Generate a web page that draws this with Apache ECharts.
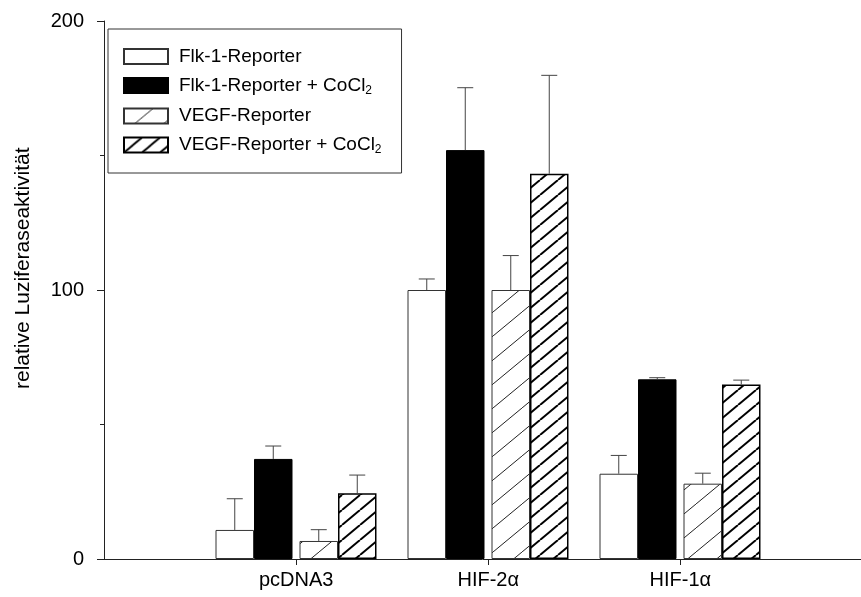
<!DOCTYPE html>
<html>
<head>
<meta charset="utf-8">
<script src="https://cdn.jsdelivr.net/npm/echarts@6/dist/echarts.min.js"></script>
<style>html,body{margin:0;padding:0;background:#fff}#c{width:861px;height:597px}</style>
</head>
<body>
<div id="c"></div>
<script>
// ---- data ----
const categories = ['pcDNA3', 'HIF-2\u03b1', 'HIF-1\u03b1'];
const seriesNames = ['Flk-1-Reporter', 'Flk-1-Reporter + CoCl2', 'VEGF-Reporter', 'VEGF-Reporter + CoCl2'];
const flk      = [10.8, 100.0, 31.7];
const flkErr   = [11.6, 4.1, 6.8];
const flkCo    = [37.2, 152.0, 66.8];
const flkCoErr = [4.8, 23.2, 0.6];
const vegf     = [6.7, 100.0, 28.0];
const vegfErr  = [4.2, 12.8, 3.9];
const vegfCo   = [24.4, 143.2, 64.9];
const vegfCoErr= [6.8, 36.6, 1.6];
const yTicks = [0, 100, 200];

// ---- styles ----
const FONT = 'Liberation Sans, Arial, sans-serif';
const BW = 38.5, SP = 7;
const half = (4 * BW + SP) / 2;
const offsets = [-half + BW / 2, -half + 1.5 * BW, half - 1.5 * BW, half - BW / 2];

function hatch(w, h, lw, color) {
  const c = document.createElement('canvas');
  c.width = w; c.height = h;
  const g = c.getContext('2d');
  g.fillStyle = '#fff'; g.fillRect(0, 0, w, h);
  g.strokeStyle = color; g.lineWidth = lw;
  for (const dx of [-w, 0, w]) {
    g.beginPath(); g.moveTo(dx, h); g.lineTo(dx + w, 0); g.stroke();
  }
  return c;
}
const lightPat = { image: hatch(29, 24, 1, '#222'), repeat: 'repeat' };
const densePat = { image: hatch(18, 15, 2, '#000'), repeat: 'repeat' };

const values = [flk, flkCo, vegf, vegfCo];
const errs = [flkErr, flkCoErr, vegfErr, vegfCoErr];
const styles = [
  { color: '#fff', borderColor: '#333', borderWidth: 1 },
  { color: '#000', borderColor: '#000', borderWidth: 1 },
  { color: lightPat, borderColor: '#333', borderWidth: 1 },
  { color: densePat, borderColor: '#000', borderWidth: 1.5 }
];

const series = [];
values.forEach((v, i) => {
  series.push({
    name: seriesNames[i], type: 'bar', xAxisIndex: 1, yAxisIndex: 1,
    data: v, barWidth: BW, barGap: '0%', itemStyle: styles[i], silent: true
  });
  if (i === 1) {
    series.push({
      name: '_spacer', type: 'bar', xAxisIndex: 1, yAxisIndex: 1,
      data: v.map(() => 0), barWidth: SP, barGap: '0%',
      itemStyle: { color: 'rgba(0,0,0,0)' }, silent: true
    });
  }
});
values.forEach((v, i) => {
  series.push({
    type: 'custom', xAxisIndex: 1, yAxisIndex: 1, silent: true, z: 5,
    data: v.map((val, k) => [k, val, errs[i][k]]),
    encode: { x: 0, y: 1 },
    renderItem: function (params, api) {
      const base = api.coord([api.value(0), api.value(1)]);
      const top = api.coord([api.value(0), api.value(1) + api.value(2)]);
      const x = base[0] + offsets[i];
      const st = { stroke: '#444', lineWidth: 1 };
      return {
        type: 'group',
        children: [
          { type: 'line', shape: { x1: x, y1: base[1], x2: x, y2: top[1] }, style: st },
          { type: 'line', shape: { x1: x - 8, y1: top[1], x2: x + 8, y2: top[1] }, style: st }
        ]
      };
    }
  });
});

const chart = echarts.init(document.getElementById('c'), null, { renderer: 'canvas' });
chart.setOption({
  animation: false,
  backgroundColor: '#fff',
  textStyle: { fontFamily: FONT },
  grid: [
    { left: 104, right: 0, top: 21, bottom: 38 },
    { left: 200, right: 85, top: 21, bottom: 38 }
  ],
  xAxis: [
    {
      type: 'value', gridIndex: 0, min: 0, max: 3.94,
      splitLine: { show: false },
      axisLine: { show: true, lineStyle: { color: '#222', width: 1 } },
      axisTick: { show: true, length: 6, customValues: [1, 2, 3], lineStyle: { color: '#222' } },
      axisLabel: {
        customValues: [1, 2, 3], margin: 11, fontSize: 20, color: '#000', fontFamily: FONT,
        formatter: v => categories[Math.round(v) - 1] || ''
      }
    },
    {
      type: 'category', gridIndex: 1, data: categories, show: false
    }
  ],
  yAxis: [
    {
      type: 'value', gridIndex: 0, min: 0, max: 200, interval: 100,
      splitLine: { show: false },
      axisLine: { show: true, lineStyle: { color: '#222', width: 1 } },
      axisTick: { show: true, inside: false, length: 7, lineStyle: { color: '#222' } },
      minorTick: { show: true, splitNumber: 2, length: 4, lineStyle: { color: '#222' } },
      minorSplitLine: { show: false },
      axisLabel: { margin: 20, fontSize: 20, color: '#000', fontFamily: FONT,
        formatter: v => yTicks.includes(v) ? String(v) : '' }
    },
    { type: 'value', gridIndex: 1, min: 0, max: 200, show: false }
  ],
  legend: {
    data: seriesNames,
    orient: 'vertical', left: 108, top: 29,
    borderColor: '#333', borderWidth: 1, borderRadius: 0,
    padding: [18, 20, 17, 15],
    itemWidth: 44, itemHeight: 15, itemGap: 10,
    icon: 'rect', selectedMode: false,
    formatter: name => name.endsWith('CoCl2') ? '{t|' + name.slice(0, -1) + '}{s|2}' : '{t|' + name + '}',
    textStyle: {
      fontFamily: FONT, color: '#000', fontSize: 19, padding: [0, 0, 0, 6],
      rich: {
        t: { fontSize: 19, lineHeight: 22, fontFamily: FONT, color: '#000' },
        s: { fontSize: 12, lineHeight: 12, fontFamily: FONT, color: '#000', verticalAlign: 'bottom', padding: [5, 0, 0, 0] }
      }
    }
  },
  graphic: [{
    type: 'text',
    x: 13, y: 389,
    rotation: Math.PI / 2,
    style: { text: 'relative Luziferaseaktivität', fontSize: 21, fontFamily: FONT, fill: '#000' },
    silent: true
  }],
  series: series
});
</script>
</body>
</html>
